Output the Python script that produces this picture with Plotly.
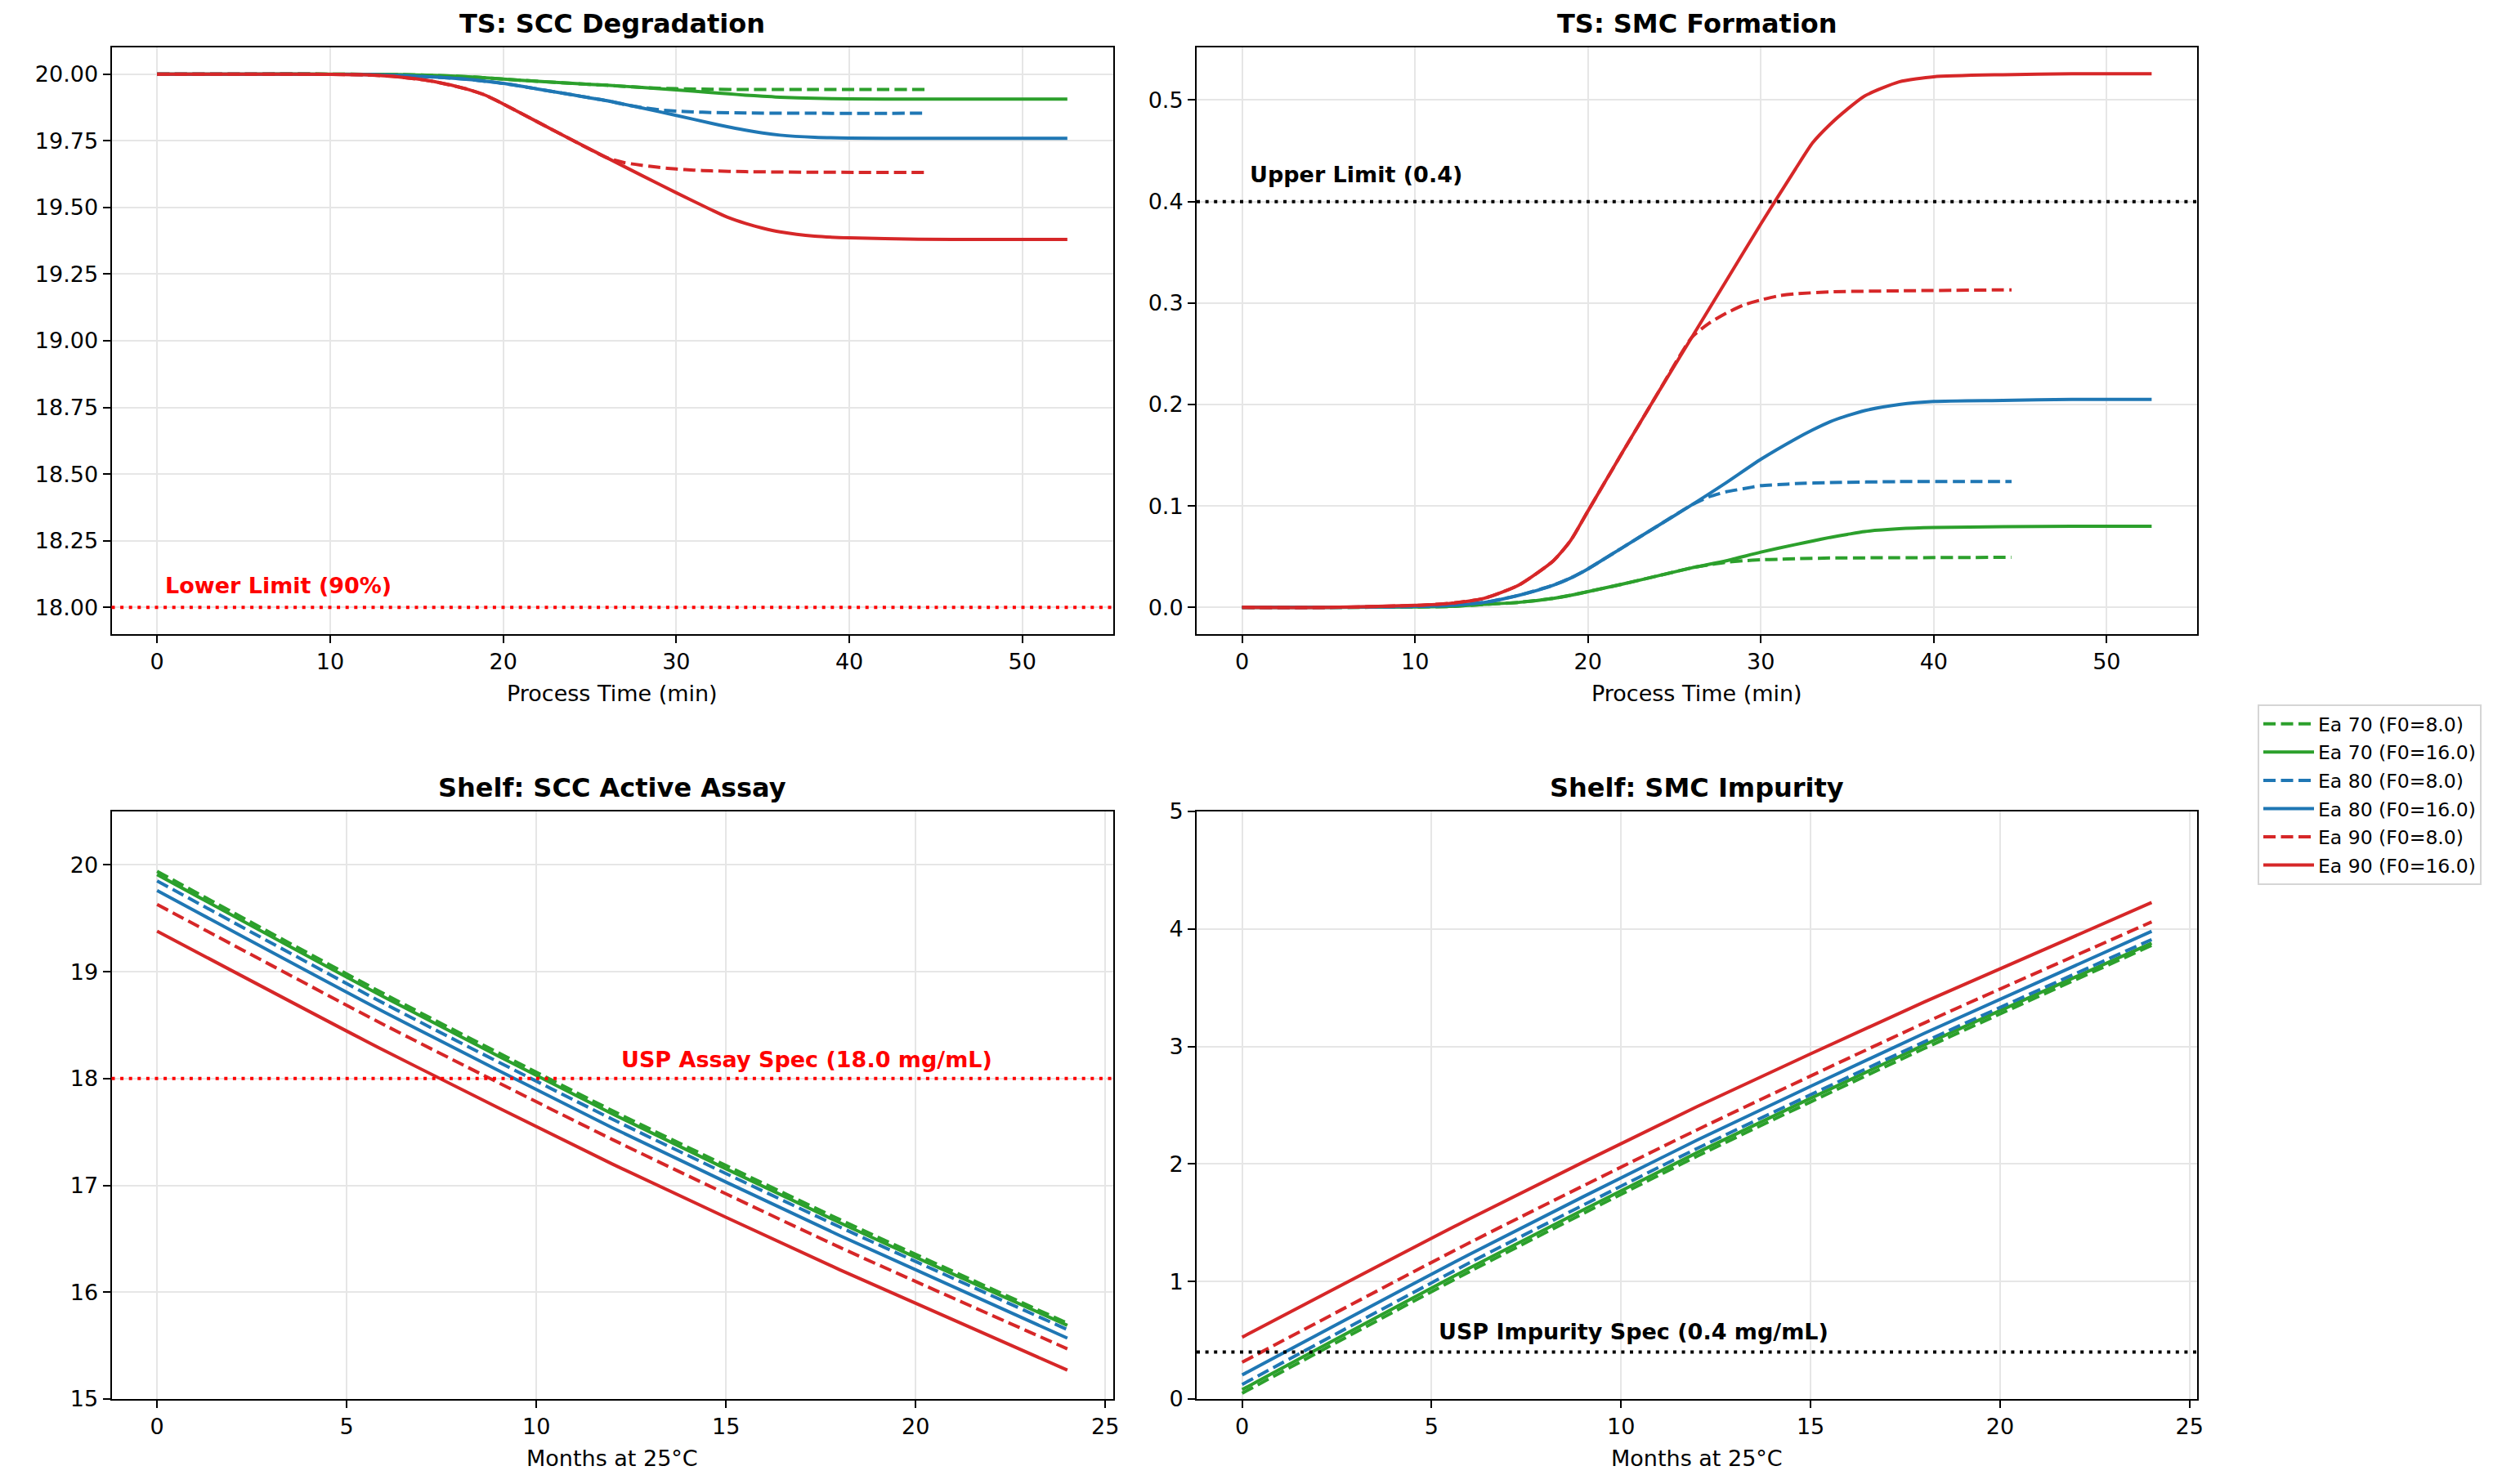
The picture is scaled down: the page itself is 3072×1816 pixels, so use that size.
import plotly.graph_objects as go

# ---------------- DATA ----------------
SERIES_LABELS = ["Ea 70 (F0=8.0)", "Ea 70 (F0=16.0)", "Ea 80 (F0=8.0)",
                 "Ea 80 (F0=16.0)", "Ea 90 (F0=8.0)", "Ea 90 (F0=16.0)"]

# Thermal sterilisation process time (min)
TS_TIME_F16 = [0, 5, 10, 12, 14, 16, 18, 19, 20, 22, 24, 26, 28, 30, 32, 33, 34, 35, 36, 38, 40, 44, 48, 52.6]
TS_TIME_F8 = [0, 5, 10, 12, 14, 16, 18, 19, 20, 22, 24, 26, 27, 28, 29, 30, 31, 32, 34, 38, 44.5]

# TS: SCC (mg/mL)
SCC_EA70_F8 = [20.000, 20.000, 20.000, 19.999, 19.998, 19.995, 19.990, 19.986, 19.981, 19.973, 19.965, 19.958,
               19.954, 19.950, 19.947, 19.945, 19.944, 19.943, 19.942, 19.942, 19.942]
SCC_EA70_F16 = [20.000, 20.000, 20.000, 19.999, 19.998, 19.995, 19.990, 19.986, 19.981, 19.973, 19.965, 19.958,
                19.950, 19.941, 19.931, 19.926, 19.921, 19.917, 19.913, 19.909, 19.907, 19.906, 19.906, 19.906]
SCC_EA80_F8 = [20.000, 20.000, 19.999, 19.998, 19.995, 19.989, 19.980, 19.973, 19.965, 19.944, 19.922, 19.900,
               19.886, 19.875, 19.866, 19.861, 19.858, 19.856, 19.854, 19.853, 19.853]
SCC_EA80_F16 = [20.000, 20.000, 19.999, 19.998, 19.995, 19.989, 19.980, 19.973, 19.965, 19.944, 19.922, 19.900,
                19.873, 19.845, 19.816, 19.802, 19.790, 19.779, 19.771, 19.763, 19.760, 19.759, 19.759, 19.759]
SCC_EA90_F8 = [20.000, 20.000, 19.999, 19.997, 19.989, 19.972, 19.942, 19.920, 19.888, 19.820, 19.752, 19.686,
               19.668, 19.658, 19.650, 19.644, 19.640, 19.637, 19.634, 19.632, 19.631]
SCC_EA90_F16 = [20.000, 20.000, 19.999, 19.997, 19.989, 19.972, 19.942, 19.920, 19.888, 19.820, 19.752, 19.686,
                19.620, 19.555, 19.492, 19.462, 19.440, 19.422, 19.408, 19.392, 19.386, 19.381, 19.380, 19.380]

# TS: SMC (mg/mL)
SMC_EA70_F8 = [0, 0, 0.0005, 0.001, 0.003, 0.005, 0.009, 0.012, 0.0156, 0.023, 0.031, 0.039,
               0.042, 0.0445, 0.046, 0.047, 0.0475, 0.048, 0.0487, 0.049, 0.0494]
SMC_EA70_F16 = [0, 0, 0.0005, 0.001, 0.003, 0.005, 0.009, 0.012, 0.0156, 0.023, 0.031, 0.039,
                0.046, 0.0545, 0.062, 0.0655, 0.069, 0.072, 0.0748, 0.0775, 0.0787, 0.0795, 0.080, 0.080]
SMC_EA80_F8 = [0, 0, 0.001, 0.002, 0.005, 0.012, 0.022, 0.029, 0.038, 0.059, 0.080, 0.101,
               0.109, 0.114, 0.117, 0.120, 0.121, 0.122, 0.123, 0.124, 0.124]
SMC_EA80_F16 = [0, 0, 0.001, 0.002, 0.005, 0.012, 0.022, 0.029, 0.038, 0.059, 0.080, 0.101,
                0.123, 0.146, 0.166, 0.175, 0.183, 0.189, 0.194, 0.200, 0.203, 0.204, 0.205, 0.205]
SMC_EA90_F8 = [0, 0, 0.002, 0.004, 0.009, 0.022, 0.046, 0.066, 0.095, 0.153, 0.210, 0.266,
               0.280, 0.290, 0.298, 0.303, 0.307, 0.309, 0.311, 0.312, 0.313]
SMC_EA90_F16 = [0, 0, 0.002, 0.004, 0.009, 0.022, 0.046, 0.066, 0.095, 0.153, 0.210, 0.266,
                0.322, 0.378, 0.432, 0.458, 0.476, 0.491, 0.504, 0.518, 0.523, 0.525, 0.526, 0.526]

# Shelf life (months at 25 C)
SHELF_MONTHS = [0, 6, 12, 18, 24]
ASSAY_EA70_F8 = [19.94, 18.79, 17.70, 16.68, 15.71]
ASSAY_EA70_F16 = [19.91, 18.76, 17.67, 16.65, 15.69]
ASSAY_EA80_F8 = [19.85, 18.70, 17.62, 16.61, 15.65]
ASSAY_EA80_F16 = [19.76, 18.62, 17.54, 16.53, 15.57]
ASSAY_EA90_F8 = [19.63, 18.50, 17.43, 16.42, 15.47]
ASSAY_EA90_F16 = [19.38, 18.26, 17.20, 16.21, 15.27]

IMP_EA70_F8 = [0.049, 1.084, 2.065, 2.983, 3.86]
IMP_EA70_F16 = [0.080, 1.115, 2.096, 3.014, 3.88]
IMP_EA80_F8 = [0.124, 1.159, 2.131, 3.040, 3.91]
IMP_EA80_F16 = [0.205, 1.231, 2.203, 3.112, 3.98]
IMP_EA90_F8 = [0.313, 1.330, 2.290, 3.200, 4.06]
IMP_EA90_F16 = [0.526, 1.534, 2.488, 3.379, 4.225]

TS_SCC_LOWER = 18.0
TS_SMC_UPPER = 0.4
USP_ASSAY_SPEC = 18.0
USP_IMP_SPEC = 0.4

# ---------------- STYLE ----------------
GREEN, BLUE, RED = "#2ca02c", "#1f77b4", "#d62728"
COLORS = [GREEN, GREEN, BLUE, BLUE, RED, RED]
DASHES = ["15px,6.5px", "solid"] * 3
FONT = "DejaVu Sans"
W, H = 3072, 1816
LW = 4

ts_times = [TS_TIME_F8, TS_TIME_F16] * 3
scc = [SCC_EA70_F8, SCC_EA70_F16, SCC_EA80_F8, SCC_EA80_F16, SCC_EA90_F8, SCC_EA90_F16]
smc = [SMC_EA70_F8, SMC_EA70_F16, SMC_EA80_F8, SMC_EA80_F16, SMC_EA90_F8, SMC_EA90_F16]
assay = [ASSAY_EA70_F8, ASSAY_EA70_F16, ASSAY_EA80_F8, ASSAY_EA80_F16, ASSAY_EA90_F8, ASSAY_EA90_F16]
imp = [IMP_EA70_F8, IMP_EA70_F16, IMP_EA80_F8, IMP_EA80_F16, IMP_EA90_F8, IMP_EA90_F16]

fig = go.Figure()

panels = [("x", "y", ts_times, scc), ("x2", "y2", ts_times, smc),
          ("x3", "y3", [SHELF_MONTHS] * 6, assay), ("x4", "y4", [SHELF_MONTHS] * 6, imp)]
for pi, (xa, ya, xs, ys) in enumerate(panels):
    for i in range(6):
        fig.add_trace(go.Scatter(
            x=xs[i], y=ys[i], mode="lines", xaxis=xa, yaxis=ya,
            name=SERIES_LABELS[i], legendgroup=SERIES_LABELS[i],
            showlegend=(pi == 0),
            line=dict(color=COLORS[i], width=LW, dash=DASHES[i], shape="spline", smoothing=0.6),
        ))

# domains (paper fractions)
XL = [136.5 / W, 1361.5 / W]
XR = [1464 / W, 2688 / W]
YT = [1 - 776 / H, 1 - 58 / H]
YB = [1 - 1712 / H, 1 - 993 / H]

tickfont = dict(family=FONT, size=27, color="black")


def xaxis(domain, anchor, rng, dtick):
    return dict(domain=domain, anchor=anchor, range=rng, dtick=dtick, tick0=0,
                showline=True, mirror=True, linecolor="black", linewidth=2,
                ticks="outside", ticklen=9, tickwidth=2, tickcolor="black",
                showgrid=True, gridcolor="#e6e6e6", gridwidth=2, zeroline=False,
                tickfont=tickfont, automargin=False)


def yaxis(domain, anchor, rng, dtick, fmt):
    d = xaxis(domain, anchor, rng, dtick)
    d["tickformat"] = fmt
    return d


fig.update_layout(
    width=W, height=H, autosize=False,
    margin=dict(l=0, r=0, t=0, b=0, pad=0, autoexpand=False),
    paper_bgcolor="white", plot_bgcolor="white",
    font=dict(family=FONT, color="black"),
    xaxis=xaxis(XL, "y", [-2.63, 55.23], 10),
    yaxis=yaxis(YT, "x", [17.9, 20.1], 0.25, ".2f"),
    xaxis2=xaxis(XR, "y2", [-2.63, 55.23], 10),
    yaxis2=yaxis(YT, "x2", [-0.0263, 0.5519], 0.1, ".1f"),
    xaxis3=xaxis(XL, "y3", [-1.2, 25.2], 5),
    yaxis3=yaxis(YB, "x3", [15, 20.5], 1, "d"),
    xaxis4=xaxis(XR, "y4", [-1.2, 25.2], 5),
    yaxis4=yaxis(YB, "x4", [0, 5], 1, "d"),
    legend=dict(x=2762 / W, y=1 - 862 / H, xanchor="left", yanchor="top",
                bgcolor="white", bordercolor="#d5d5d5", borderwidth=2,
                font=dict(family=FONT, size=23.5, color="black"),
                tracegroupgap=1, itemwidth=62),
)

# reference lines
hlines = [("x", "y", TS_SCC_LOWER, "red"), ("x2", "y2", TS_SMC_UPPER, "black"),
          ("x3", "y3", USP_ASSAY_SPEC, "red"), ("x4", "y4", USP_IMP_SPEC, "black")]
for xa, ya, yv, col in hlines:
    fig.add_shape(type="line", xref=f"{xa} domain", yref=ya, x0=0, x1=1, y0=yv, y1=yv,
                  line=dict(color=col, width=4, dash="4px,6.6px"), layer="above")

# limit labels
labels = [("x", "y", 0.5, 18.05, "Lower Limit (90%)", "red"),
          ("x2", "y2", 0.5, 0.418, "Upper Limit (0.4)", "black"),
          ("x3", "y3", 12.25, 18.1, "USP Assay Spec (18.0 mg/mL)", "red"),
          ("x4", "y4", 5.2, 0.5, "USP Impurity Spec (0.4 mg/mL)", "black")]
for xa, ya, xv, yv, txt, col in labels:
    fig.add_annotation(xref=xa, yref=ya, x=xv, y=yv, text=f"<b>{txt}</b>", showarrow=False,
                       xanchor="left", yanchor="bottom", yshift=-7, xshift=-3,
                       font=dict(family=FONT, size=27, color=col))

# titles and axis titles
titles = [("x", "y", "TS: SCC Degradation", "Process Time (min)"),
          ("x2", "y2", "TS: SMC Formation", "Process Time (min)"),
          ("x3", "y3", "Shelf: SCC Active Assay", "Months at 25°C"),
          ("x4", "y4", "Shelf: SMC Impurity", "Months at 25°C")]
for xa, ya, t, xt in titles:
    fig.add_annotation(xref=f"{xa} domain", yref=f"{ya} domain", x=0.5, y=1, yshift=29,
                       text=f"<b>{t}</b>", showarrow=False, xanchor="center", yanchor="middle",
                       font=dict(family=FONT, size=32, color="black"))
    fig.add_annotation(xref=f"{xa} domain", yref=f"{ya} domain", x=0.5, y=0, yshift=-72,
                       text=xt, showarrow=False, xanchor="center", yanchor="middle",
                       font=dict(family=FONT, size=27, color="black"))

PAGE_FIX = (
    "var gd=document.getElementById('{plot_id}');"
    "var de=document.documentElement;"
    "de.style.margin='0';de.style.padding='0';de.style.overflow='hidden';"
    "document.body.style.margin='0';document.body.style.padding='0';"
    "document.body.style.overflow='hidden';"
    "gd.style.position='fixed';gd.style.top='0px';gd.style.left='0px';"
)

fig.write_html("out.html", config={"displayModeBar": False}, post_script=PAGE_FIX)
